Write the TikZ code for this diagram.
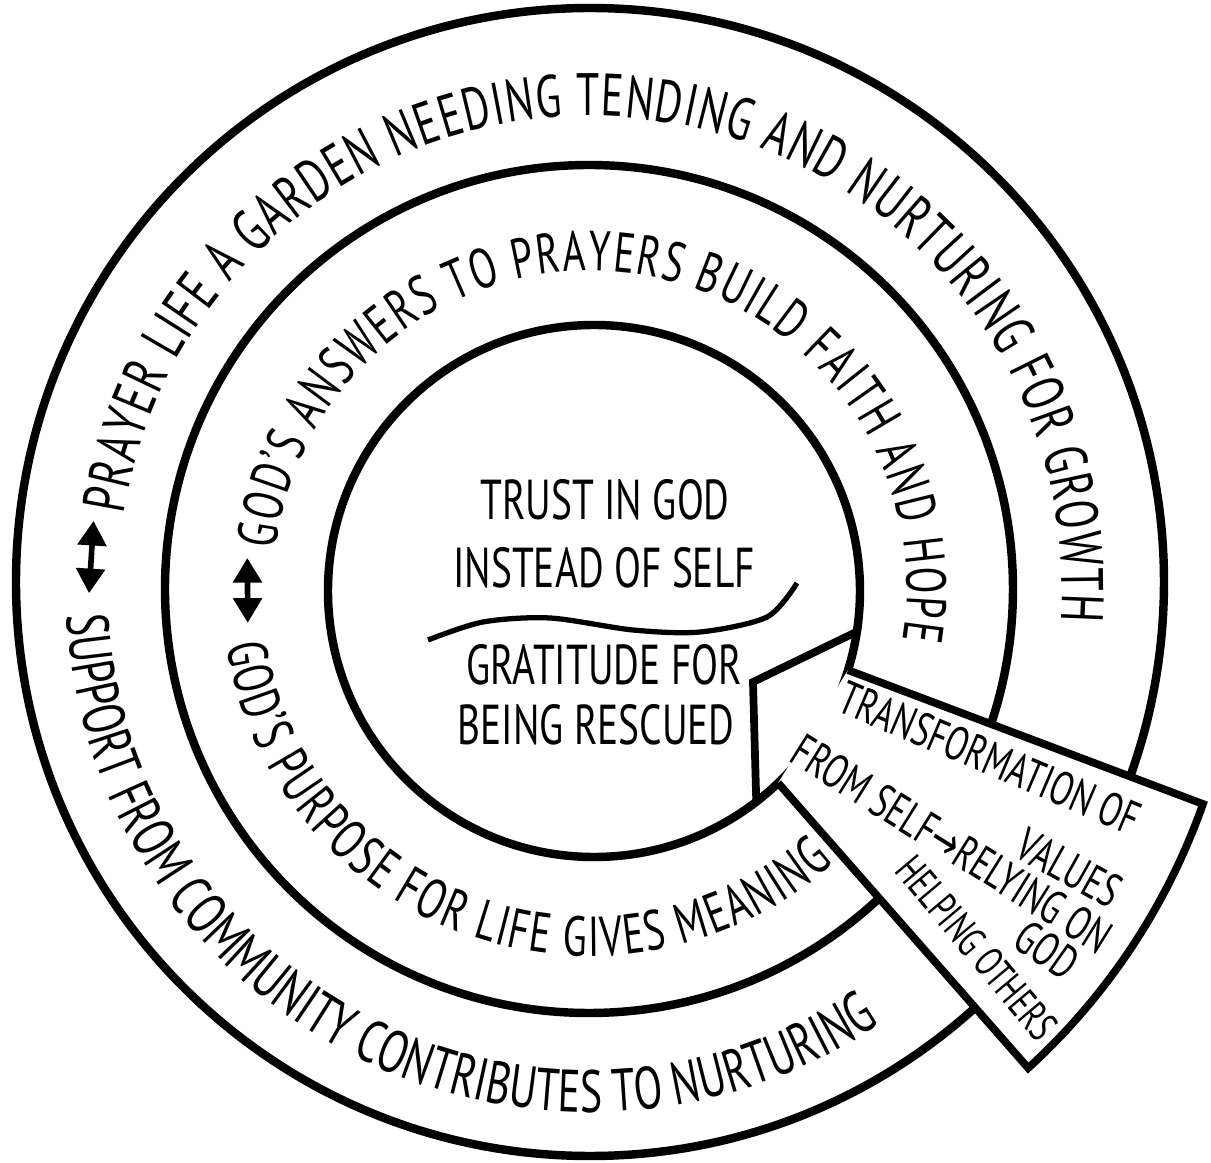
\documentclass[tikz,border=0pt]{standalone}
\usepackage{fontspec}
\setmainfont[FakeStretch=0.7]{PT Sans}
\newfontfamily\arrowfont[FakeStretch=0.7]{DejaVu Sans}
\usetikzlibrary{arrows.meta,calc,decorations.text}
\newcommand{\ringfont}{\fontsize{16}{16}\selectfont}
\newcommand{\outerfont}{\fontsize{17}{17}\selectfont}
\newcommand{\wedgefont}{\fontsize{13.5}{14}\selectfont}
\begin{document}
\begin{tikzpicture}[
    ring/.style={line width=2.4pt},
    edge/.style={line width=2.2pt},
    ringtext/.style={decorate, decoration={text along path, text align={fit to path}, text={|\ringfont|#1}}},
    outertext/.style={decorate, decoration={text along path, text align={fit to path}, text={|\outerfont|#1}}},
    centre/.style={font=\ringfont, anchor=base, inner sep=0pt},
    wedgetext/.style={font=\wedgefont, inner sep=0pt},
    twoway/.style={line width=1.6pt, {Triangle[length=7pt,width=8pt]}-{Triangle[length=7pt,width=8pt]}}]
\useasboundingbox (-5.90,-5.75) rectangle (6.21,5.88);

\coordinate (co) at (0,0.06);
\coordinate (cm) at (-0.01,-0.01);
\coordinate (ci) at (0.04,-0.03);
\coordinate (w1) at ($(ci)+(-17.3:2.66)$);
\coordinate (w2) at (6.13,-2.16);
\coordinate (w4) at ($(ci)+(-46.2:2.66)$);
\coordinate (n1) at ($(ci)+(-8.8:2.66)$);
\coordinate (n2) at (1.63,-0.94);
\coordinate (n3) at ($(ci)+(-52.4:2.66)$);

\draw[ring] (co) circle[radius=5.74];
\draw[ring] (cm) circle[radius=4.24];
\draw[ring] (ci) circle[radius=2.66];

% the wedge cuts through all three rings
\fill[white] (w1) -- (w2) arc[start angle=-19.4, end angle=-47.6, radius=6.5] -- (w4) -- cycle;
\draw[edge] (w1) -- (w2) arc[start angle=-19.4, end angle=-47.6, radius=6.5] -- (w4);
\draw[edge] (n1) -- (n2) -- (n3);

\path[outertext={PRAYER LIFE A GARDEN NEEDING TENDING AND NURTURING FOR GROWTH}] (171:4.72) arc[start angle=171, end angle=-4, radius=4.72];
\path[outertext={SUPPORT FROM COMMUNITY CONTRIBUTES TO NURTURING}] (183:5.24) arc[start angle=183, end angle=302.5, radius=5.24];
\path[ringtext={GOD’S ANSWERS TO PRAYERS BUILD FAITH AND HOPE}] (173:3.17) arc[start angle=173, end angle=-9.5, radius=3.17];
\path[ringtext={GOD’S PURPOSE FOR LIFE GIVES MEANING}] (189:3.68) arc[start angle=189, end angle=311.5, radius=3.68];

\coordinate (oa1) at (172.3:5.01);
\coordinate (oa2) at (180.6:5.01);
\coordinate (ma1) at (175:3.44);
\coordinate (ma2) at (185.8:3.44);
\draw[twoway] (oa1) -- (oa2);
\draw[twoway] (ma1) -- (ma2);

\node[centre] (trust) at (0.15,0.68) {TRUST IN GOD};
\node[centre] (instead) at (0.14,0) {INSTEAD OF SELF};
\node[centre] (grat) at (0.14,-0.97) {GRATITUDE FOR};
\node[centre] (rescued) at (0.06,-1.57) {BEING RESCUED};
\draw[line width=1.5pt] plot[smooth] coordinates {(-1.62,-0.52) (-1.07,-0.34) (-0.40,-0.30) (0.43,-0.42) (1.10,-0.44) (1.77,-0.29) (2.07,0.05)};

\node[wedgetext, rotate=-23] (transf) at (4.00,-1.70) {TRANSFORMATION OF};
\node[wedgetext, rotate=-29] (values) at (4.79,-2.80) {VALUES};
\node[wedgetext, rotate=-32] (fromself) at (3.62,-2.56) {FROM SELF{\arrowfont →}RELYING ON};
\node[wedgetext, rotate=-35] (god) at (4.57,-3.62) {GOD};
\node[wedgetext, font=\fontsize{12}{12}\selectfont, rotate=-50] (helping) at (3.87,-3.60) {HELPING\,OTHERS};
\end{tikzpicture}
\end{document}
